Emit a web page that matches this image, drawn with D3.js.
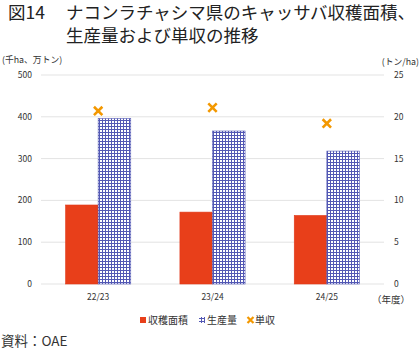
<!DOCTYPE html>
<html><head><meta charset="utf-8">
<script src="https://cdn.jsdelivr.net/npm/d3@7"></script>
<style>
body{margin:0;background:#fff;}
svg text{font-family:"Noto Sans CJK JP","Noto Sans",sans-serif;}
</style></head>
<body><svg id="c" width="420" height="349"></svg>
<script>
const categories = ["22/23","23/24","24/25"];
const area = [189, 172, 164];        // 収穫面積 (千ha)
const production = [396, 366, 318]; // 生産量 (万トン)
const yieldV = [20.7, 21.1, 19.2];   // 単収 (トン/ha)
const leftTicks = [0,100,200,300,400,500];
const rightTicks = [0,5,10,15,20,25];

const svg = d3.select("#c");
const m = {l:41, r:36, t:75, b:65};
const W = 420, H = 349;
const x = d3.scaleBand().domain(categories).range([m.l, W - m.r]);
const yL = d3.scaleLinear().domain([0,500]).range([284, 75]);
const yR = d3.scaleLinear().domain([0,25]).range([284, 75]);

const defs = svg.append("defs");
const pat = defs.append("pattern").attr("id","grid").attr("patternUnits","userSpaceOnUse")
  .attr("width",3).attr("height",3);
pat.append("rect").attr("width",3).attr("height",3).attr("fill","#fff");
pat.append("rect").attr("x",0).attr("y",0).attr("width",1).attr("height",3).attr("fill","#5358b4");
pat.append("rect").attr("x",0).attr("y",0).attr("width",3).attr("height",1).attr("fill","#5358b4");

// title
const title = svg.append("text").attr("fill","#222").attr("font-size",17.5);
title.append("tspan").attr("x",8).attr("y",19).text("図14");
title.append("tspan").attr("x",66).attr("y",19).text("ナコンラチャシマ県のキャッサバ収穫面積、");
svg.append("text").attr("fill","#222").attr("font-size",17.5).attr("x",66).attr("y",42).text("生産量および単収の推移");

// units
svg.append("text").attr("x",2).attr("y",63).attr("font-size",8.8).attr("fill","#333").text("(千ha、万トン)");
svg.append("text").attr("x",419).attr("y",65).attr("text-anchor","end").attr("font-size",8.8).attr("fill","#333").text("(トン/ha)");

// gridlines
svg.append("g").selectAll("line").data(leftTicks).join("line")
  .attr("x1",m.l).attr("x2",W-m.r).attr("y1",d=>yL(d)).attr("y2",d=>yL(d))
  .attr("stroke","#e3e3e3").attr("stroke-width",1);

// left axis labels
svg.append("g").selectAll("text").data(leftTicks).join("text")
  .attr("x",32).attr("y",d=>yL(d)+3).attr("text-anchor","end")
  .attr("font-size",8.5).attr("fill","#333").text(d=>d);
// right axis labels
svg.append("g").selectAll("text").data(rightTicks).join("text")
  .attr("x",394).attr("y",d=>yR(d)+3).attr("text-anchor","start")
  .attr("font-size",8.5).attr("fill","#333").text(d=>d);

const bw = x.bandwidth()*0.285;
const cx = d => x(d) + x.bandwidth()/2;

// bars
svg.append("g").selectAll("rect").data(categories).join("rect")
  .attr("x",d=>cx(d)-bw).attr("width",bw)
  .attr("y",(d,i)=>yL(area[i])).attr("height",(d,i)=>yL(0)-yL(area[i]))
  .attr("fill","#e83f1a").attr("stroke","#e0391a").attr("stroke-width",0.6);
svg.append("g").selectAll("rect").data(categories).join("rect")
  .attr("x",d=>cx(d)).attr("width",bw)
  .attr("y",(d,i)=>yL(production[i])).attr("height",(d,i)=>yL(0)-yL(production[i]))
  .attr("fill","url(#grid)").attr("stroke","#5358b4").attr("stroke-width",0.6);

// yield markers
const crossPath = (cxp, cyp, s) => `M${cxp-s},${cyp-s}L${cxp+s},${cyp+s}M${cxp-s},${cyp+s}L${cxp+s},${cyp-s}`;
svg.append("g").selectAll("path").data(categories).join("path")
  .attr("d",(d,i)=>crossPath(cx(d), yR(yieldV[i]), 4.2))
  .attr("stroke","#f39800").attr("stroke-width",2.6).attr("fill","none");

// x labels
svg.append("g").selectAll("text").data(categories).join("text")
  .attr("x",d=>cx(d)).attr("y",300).attr("text-anchor","middle")
  .attr("font-size",8.5).attr("fill","#333").text(d=>d);
svg.append("text").attr("x",391).attr("y",303).attr("text-anchor","middle")
  .attr("font-size",9.5).attr("fill","#333").text("（年度）");

// legend
const ly = 320;
svg.append("rect").attr("x",140).attr("y",ly-3).attr("width",6).attr("height",6).attr("fill","#e83f1a");
svg.append("text").attr("x",148).attr("y",ly+3.5).attr("font-size",10).attr("fill","#333").text("収穫面積");
svg.append("rect").attr("x",199).attr("y",ly-3).attr("width",6).attr("height",6).attr("fill","url(#grid)");
svg.append("text").attr("x",207).attr("y",ly+3.5).attr("font-size",10).attr("fill","#333").text("生産量");
svg.append("path").attr("d",crossPath(250.5, ly, 3)).attr("stroke","#f39800").attr("stroke-width",2.2);
svg.append("text").attr("x",255).attr("y",ly+3.5).attr("font-size",10).attr("fill","#333").text("単収");

// source
svg.append("text").attr("x",1).attr("y",346).attr("font-size",13.5).attr("fill","#333").text("資料：OAE");
</script></body></html>
